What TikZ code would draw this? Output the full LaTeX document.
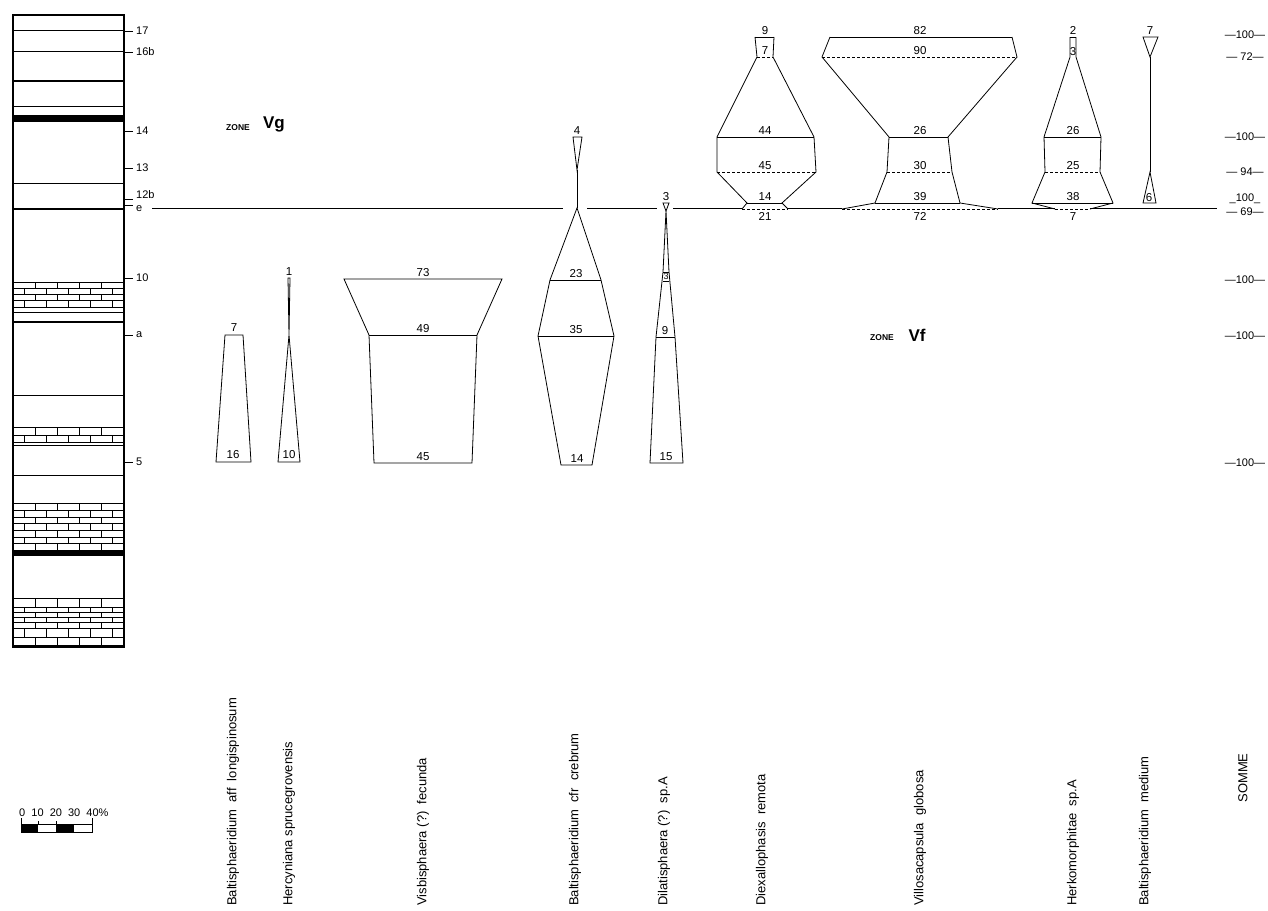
\documentclass[tikz,border=0pt]{standalone}
\usepackage{fontspec}
\setmainfont{Liberation Sans}
\begin{document}
\begin{tikzpicture}[x=1pt,y=-1pt,
  shp/.style={line width=0.8pt, line join=miter},
  dsh/.style={line width=0.8pt, dash pattern=on 3pt off 2pt},
  num/.style={font=\fontsize{11.5}{11.5}\selectfont, inner sep=0pt},
  lvl/.style={font=\fontsize{11}{11}\selectfont, inner sep=0pt, anchor=west},
  som/.style={font=\fontsize{11}{11}\selectfont, inner sep=0pt},
  spec/.style={rotate=90, anchor=west, font=\fontsize{13}{13}\selectfont, inner sep=0pt},
  thinl/.style={line width=0.9pt},
  thickl/.style={line width=2pt}]
\useasboundingbox (0,0) rectangle (1268,910);

% ---------- stratigraphic column ----------
\fill (13,115) rectangle (124,122);
\fill (13,550) rectangle (124,556);
\foreach \yy in {30,51,106,183,312,395,445,475} \draw[thinl] (13,\yy) -- (124,\yy);
\foreach \yy in {81,209,322} \draw[thickl] (13,\yy) -- (124,\yy);
\foreach \a/\b/\o in {282/288/0,288/294/-11,294/300/0,300/307/-11,
                      427/435/0,435/442/-11,
                      503/510/0,510/517/-11,517/523/0,523/530/-11,530/537/0,537/543/-11,543/550/0,
                      598/607/0,607/612/-11,612/617/0,617/622/-11,622/628/0,628/637/-11,637/645/0}{
  \draw[thinl] (13,\a) -- (124,\a);
  \draw[thinl] (13,\b) -- (124,\b);
  \foreach \k in {1,...,5} \draw[thinl] ({13+22*\k+\o},\a) -- ({13+22*\k+\o},\b);
}
\draw[line width=2.6pt] (13,15) rectangle (124,647);

% level ticks
\foreach \yy/\ty/\t/\nm in {31/31/17/l17,52/52/16b/l16b,131/131/14/l14,168/168/13/l13,199/195/12b/l12b,205/209/e/le,278/278/10/l10,335/335/a/la,462/462/5/l5}{
  \draw[thinl] (124,\yy) -- (133,\yy);
  \node[lvl] (\nm) at (136,\ty) {\t};
}

% ---------- zone labels ----------
\node[inner sep=0pt, font=\bfseries\fontsize{8.5}{8.5}\selectfont] (zg) at (238,128) {ZONE};
\node[inner sep=0pt, font=\bfseries\fontsize{17}{17}\selectfont] (vg) at (274,124) {Vg};
\node[inner sep=0pt, font=\bfseries\fontsize{8.5}{8.5}\selectfont] (zf) at (882,338) {ZONE};
\node[inner sep=0pt, font=\bfseries\fontsize{17}{17}\selectfont] (vf) at (917,335) {Vf};

% ---------- e line ----------
\draw[shp] (152,208) -- (563,208);
\draw[shp] (587,208) -- (657,208);
\draw[shp] (673,208) -- (742,208);
\draw[shp] (788,208) -- (842,208);
\draw[shp] (998,208) -- (1055,208);
\draw[shp] (1090,208) -- (1217,208);

% ---------- col 1 ----------
\draw[shp] (225,335) -- (243,335) -- (251,462) -- (216,462) -- cycle;
\node[num, anchor=south] (c1a) at (234,332) {7};
\node[num, anchor=south] (c1b) at (233,459) {16};

% ---------- col 2 ----------
\draw[shp] (288,278) -- (290,278) -- (289,335) -- (300,462) -- (278,462) -- (289,335) -- cycle;
\node[num, anchor=south] (c2a) at (289,276) {1};
\node[num, anchor=south] (c2b) at (289,459) {10};

% ---------- col 3 ----------
\draw[shp] (344,279) -- (502,279) -- (477,335) -- (472,463) -- (374,463) -- (369,335) -- cycle;
\draw[shp] (369,335) -- (477,335);
\node[num, anchor=south] (c3a) at (423,277) {73};
\node[num, anchor=south] (c3b) at (423,333) {49};
\node[num, anchor=south] (c3c) at (423,461) {45};

% ---------- col 4 ----------
\draw[shp] (573,137) -- (582,137) -- (577,170) -- cycle;
\draw[shp] (577,170) -- (577,208);
\draw[shp] (577,208) -- (601,280) -- (614,336) -- (592,465) -- (561,465) -- (538,336) -- (550,280) -- cycle;
\draw[shp] (550,280) -- (601,280);
\draw[shp] (538,336) -- (614,336);
\node[num, anchor=south] (c4a) at (577,135) {4};
\node[num, anchor=south] (c4b) at (576,278) {23};
\node[num, anchor=south] (c4c) at (576,334) {35};
\node[num, anchor=south] (c4d) at (577,463) {14};

% ---------- col 5 ----------
\draw[shp] (663,203) -- (669,203) -- (666,211) -- cycle;
\draw[shp] (666,211) -- (669,272) -- (675,337) -- (683,463) -- (650,463) -- (656,337) -- (663,272) -- cycle;
\draw[shp] (663,272) -- (669,272);
\draw[shp] (663,281) -- (669,281);
\draw[shp] (656,337) -- (675,337);
\node[num, anchor=south] (c5a) at (666,201) {3};
\node[num, anchor=south, font=\fontsize{9}{9}\selectfont] (c5b) at (666,280) {3};
\node[num, anchor=south] (c5c) at (665,335) {9};
\node[num, anchor=south] (c5d) at (666,461) {15};

% ---------- col 6 ----------
\draw[shp] (755,37) -- (757,57) -- (717,137) -- (717,172) -- (747,203) -- (742,209);
\draw[shp] (774,37) -- (773,57) -- (814,137) -- (816,172) -- (782,203) -- (788,209);
\draw[shp] (755,37) -- (774,37);
\draw[shp] (717,137) -- (814,137);
\draw[shp] (747,203) -- (782,203);
\draw[dsh] (757,57) -- (773,57);
\draw[dsh] (717,172) -- (816,172);
\draw[dsh] (742,209) -- (788,209);
\node[num, anchor=south] (c6a) at (765,35) {9};
\node[num, anchor=south] (c6b) at (765,55) {7};
\node[num, anchor=south] (c6c) at (765,135) {44};
\node[num, anchor=south] (c6d) at (765,170) {45};
\node[num, anchor=south] (c6e) at (765,201) {14};
\node[num, anchor=north] (c6f) at (765,212) {21};

% ---------- col 7 ----------
\draw[shp] (830,37) -- (822,57) -- (889,137) -- (887,172) -- (875,203) -- (842,209);
\draw[shp] (1012,37) -- (1017,57) -- (948,137) -- (952,172) -- (960,203) -- (998,209);
\draw[shp] (830,37) -- (1012,37);
\draw[shp] (889,137) -- (948,137);
\draw[shp] (875,203) -- (960,203);
\draw[dsh] (822,57) -- (1017,57);
\draw[dsh] (887,172) -- (952,172);
\draw[dsh] (842,209) -- (998,209);
\node[num, anchor=south] (c7a) at (920,35) {82};
\node[num, anchor=south] (c7b) at (920,55) {90};
\node[num, anchor=south] (c7c) at (920,135) {26};
\node[num, anchor=south] (c7d) at (920,170) {30};
\node[num, anchor=south] (c7e) at (920,201) {39};
\node[num, anchor=north] (c7f) at (920,212) {72};

% ---------- col 8 ----------
\draw[shp] (1070,37) -- (1070,57) -- (1044,137) -- (1045,172) -- (1032,203) -- (1055,209);
\draw[shp] (1076,37) -- (1076,57) -- (1101,137) -- (1100,172) -- (1113,203) -- (1090,209);
\draw[shp] (1070,37) -- (1076,37);
\draw[shp] (1044,137) -- (1101,137);
\draw[shp] (1032,203) -- (1113,203);
\draw[dsh] (1045,172) -- (1100,172);
\draw[dsh] (1055,209) -- (1090,209);
\node[num, anchor=south] (c8a) at (1073,35) {2};
\node[num, anchor=south] (c8b) at (1073,56) {3};
\node[num, anchor=south] (c8c) at (1073,135) {26};
\node[num, anchor=south] (c8d) at (1073,170) {25};
\node[num, anchor=south] (c8e) at (1073,201) {38};
\node[num, anchor=north] (c8f) at (1073,212) {7};

% ---------- col 9 ----------
\draw[shp] (1143,37) -- (1158,37) -- (1150,57) -- cycle;
\draw[shp] (1150,57) -- (1150,172);
\draw[shp] (1150,172) -- (1156,203) -- (1143,203) -- cycle;
\node[num, anchor=south] (c9a) at (1150,35) {7};
\node[num, anchor=south] (c9b) at (1149,202) {6};

% ---------- SOMME values ----------
\node[som] (s1) at (1245,35) {—100—};
\node[som] (s2) at (1245,57) {— 72—};
\node[som] (s3) at (1245,137) {—100—};
\node[som] (s4) at (1245,172) {— 94—};
\node[som] (s5) at (1245,199) {\_100\_};
\node[som] (s6) at (1245,212) {— 69—};
\node[som] (s7) at (1245,280) {—100—};
\node[som] (s8) at (1245,336) {—100—};
\node[som] (s9) at (1245,463) {—100—};

% ---------- species names ----------
\node[spec] (t1) at (233,906) {Baltisphaeridium~~aff~~longispinosum};
\node[spec] (t2) at (289,906) {Hercyniana~sprucegrovensis};
\node[spec] (t3) at (423,906) {Visbisphaera (?)~~fecunda};
\node[spec] (t4) at (575,906) {Baltisphaeridium~~cfr~~crebrum};
\node[spec] (t5) at (664,906) {Dilatisphaera (?)~~sp.A};
\node[spec] (t6) at (762,906) {Diexallophasis~~remota};
\node[spec] (t7) at (920,906) {Villosacapsula~~globosa};
\node[spec] (t8) at (1073,906) {Herkomorphitae~~sp.A};
\node[spec] (t9) at (1145,906) {Baltisphaeridium~~medium};
\node[spec, anchor=center] (t10) at (1243,778) {SOMME};

% ---------- scale bar ----------
\node[inner sep=0pt, anchor=west, font=\fontsize{11}{11}\selectfont] (sc) at (19,813) {0~~10~~20~~30~~40\%};
\fill (21,824) rectangle (38,832);
\fill (56,824) rectangle (74,832);
\draw[thinl] (21,832) -- (92,832);
\draw[thinl] (38,824) -- (56,824);
\draw[thinl] (74,824) -- (92,824);
\draw[thinl] (21,818) -- (21,833);
\draw[thinl] (92,818) -- (92,833);
\draw[thinl] (38,821) -- (38,824);
\draw[thinl] (56,821) -- (56,824);
\end{tikzpicture}
\end{document}
